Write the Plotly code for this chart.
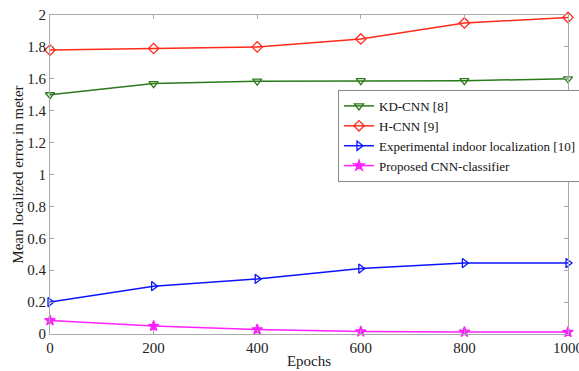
import plotly.graph_objects as go

epochs = [0, 200, 400, 600, 800, 1000]
kd_cnn = [1.50, 1.57, 1.585, 1.588, 1.588, 1.60]
h_cnn = [1.78, 1.79, 1.80, 1.85, 1.95, 1.985]
experimental = [0.20, 0.30, 0.345, 0.41, 0.445, 0.445]
proposed = [0.085, 0.05, 0.028, 0.015, 0.013, 0.012]

names = ["KD-CNN [8]", "H-CNN [9]", "Experimental indoor localization [10]", "Proposed CNN-classifier"]
colors = ["#2a7a1a", "#ff2a1a", "#0a14ff", "#ff22ff"]
symbols = ["triangle-down-open", "diamond-open", "triangle-right-open", "star"]
series = [kd_cnn, h_cnn, experimental, proposed]

fig = go.Figure()
for name, col, sym, ys in zip(names, colors, symbols, series):
    fig.add_trace(go.Scatter(
        x=epochs, y=ys, name=name, mode="lines+markers",
        line=dict(color=col, width=1.5),
        marker=dict(symbol=sym, size=8, color=col, line=dict(color=col, width=1.3)),
        cliponaxis=False,
    ))

ff = "Liberation Serif"
fig.update_layout(
    width=579, height=371,
    margin=dict(l=50, r=11, t=15, b=37, autoexpand=False),
    paper_bgcolor="white", plot_bgcolor="white",
    font=dict(family=ff, size=15, color="#222"),
    showlegend=True,
    legend=dict(x=0.556, y=0.765, xanchor="left", yanchor="top",
                bgcolor="white", bordercolor="#888", borderwidth=1,
                font=dict(size=13, family=ff, color="#111"),
                tracegroupgap=0, itemwidth=30),
    xaxis=dict(range=[0, 1000], tickvals=[0, 200, 400, 600, 800, 1000],
               showgrid=False, zeroline=False, showline=True, linecolor="#aaa",
               linewidth=1, mirror="ticks", ticks="inside", tickcolor="#aaa",
               ticklen=4, automargin=False, ticklabeloverflow="allow",
               tickfont=dict(family=ff, size=15),
               title=dict(text="Epochs", standoff=0, font=dict(size=15, family=ff))),
    yaxis=dict(range=[0, 2], tickvals=[0, 0.2, 0.4, 0.6, 0.8, 1, 1.2, 1.4, 1.6, 1.8, 2],
               ticktext=["0", "0.2", "0.4", "0.6", "0.8", "1", "1.2", "1.4", "1.6", "1.8", "2"],
               showgrid=False, zeroline=False, showline=True, linecolor="#aaa",
               linewidth=1, mirror="ticks", ticks="inside", tickcolor="#aaa",
               ticklen=4, automargin=False, ticklabeloverflow="allow",
               tickfont=dict(family=ff, size=15),
               title=dict(text="Mean localized error in meter", standoff=0, font=dict(size=15, family=ff))),
)
fig.write_html("out.html", config={"displayModeBar": False},
               post_script="document.body.style.margin='0';")
